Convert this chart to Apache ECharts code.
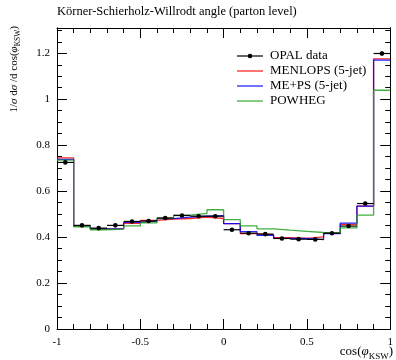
<!DOCTYPE html>
<html><head><meta charset="utf-8">
<script src="https://cdn.jsdelivr.net/npm/echarts@6/dist/echarts.min.js"></script>
<style>html,body{margin:0;padding:0;background:#fff}#c{width:396px;height:360px}</style>
</head><body><div id="c"></div>
<script>
const edges = [-1,-0.9,-0.8,-0.7,-0.6,-0.5,-0.4,-0.3,-0.2,-0.1,0,0.1,0.2,0.3,0.4,0.5,0.6,0.7,0.8,0.9,1];
const opal    = [0.725,0.451,0.439,0.451,0.468,0.470,0.483,0.494,0.491,0.491,0.432,0.417,0.413,0.394,0.391,0.390,0.417,0.448,0.546,1.199];
const opalErr = [0.008,0.005,0.005,0.005,0.005,0.005,0.005,0.005,0.005,0.005,0.005,0.005,0.005,0.005,0.005,0.005,0.005,0.006,0.007,0.010];
const menlops = [0.745,0.449,0.436,0.437,0.460,0.473,0.478,0.481,0.487,0.481,0.459,0.415,0.410,0.398,0.394,0.401,0.417,0.455,0.535,1.176];
const meps    = [0.738,0.449,0.436,0.437,0.464,0.470,0.480,0.487,0.491,0.493,0.459,0.424,0.408,0.394,0.394,0.389,0.415,0.461,0.535,1.170];
const powheg  = [0.735,0.445,0.432,0.435,0.449,0.462,0.482,0.496,0.503,0.519,0.476,0.449,0.436,0.430,0.425,0.420,0.418,0.440,0.496,1.039];
const xTicks = [-1,-0.5,0,0.5,1];
const yTicks = [0,0.2,0.4,0.6,0.8,1,1.2];

const FONT = 'Liberation Serif';
function steps(v){const out=[];for(let i=0;i<v.length;i++){out.push([edges[i],v[i]]);out.push([edges[i+1],v[i]]);}return out;}
function hist(name,color,vals){return {name,type:'line',data:steps(vals),showSymbol:false,symbol:'none',
  lineStyle:{color,width:1.3,opacity:0.85},itemStyle:{color},z:3,silent:true};}
const opalData = opal.map((v,i)=>[edges[i],edges[i+1],v,opalErr[i]]);

const baseAxisLine={show:true,onZero:false,lineStyle:{color:'#000',width:1}};
const chart = echarts.init(document.getElementById('c'),null,{renderer:'canvas'});
const lblY = {fontFamily:FONT,fontSize:11,color:'#000',margin:7,showMaxLabel:false,
  formatter:v=>yTicks.includes(Math.round(v*100)/100)?String(Math.round(v*100)/100):''};
chart.setOption({
  animation:false,
  grid:{left:57,right:3,top:28,bottom:31,containLabel:false},
  xAxis:[
    {type:'value',min:-1,max:1,interval:0.5,position:'bottom',axisLine:baseAxisLine,
     axisTick:{show:true,inside:true,length:10,lineStyle:{color:'#000'}},
     minorTick:{show:true,splitNumber:5,length:5,lineStyle:{color:'#000'}},
     splitLine:{show:false},
     axisLabel:{fontFamily:FONT,fontSize:11,color:'#000',margin:8,
       formatter:v=>xTicks.includes(v)?String(v):''}},
    {type:'value',min:-1,max:1,interval:0.5,position:'top',axisLine:baseAxisLine,
     axisTick:{show:true,inside:true,length:10,lineStyle:{color:'#000'}},
     minorTick:{show:true,splitNumber:5,length:5,lineStyle:{color:'#000'}},
     splitLine:{show:false},axisLabel:{show:false}}
  ],
  yAxis:[
    {type:'value',min:0,max:1.31,interval:0.2,position:'left',axisLine:baseAxisLine,
     axisTick:{show:true,inside:true,length:10,lineStyle:{color:'#000'}},splitLine:{show:false},axisLabel:lblY},
    {type:'value',min:0,max:1.31,interval:0.05,position:'left',axisLine:baseAxisLine,
     axisTick:{show:true,inside:true,length:5,lineStyle:{color:'#000'}},splitLine:{show:false},axisLabel:{show:false}},
    {type:'value',min:0,max:1.31,interval:0.2,position:'right',axisLine:baseAxisLine,
     axisTick:{show:true,inside:true,length:10,lineStyle:{color:'#000'}},splitLine:{show:false},axisLabel:{show:false}},
    {type:'value',min:0,max:1.31,interval:0.05,position:'right',axisLine:baseAxisLine,
     axisTick:{show:true,inside:true,length:5,lineStyle:{color:'#000'}},splitLine:{show:false},axisLabel:{show:false}}
  ],
  series:[
    hist('MENLOPS (5-jet)','#ff0000',menlops),
    hist('ME+PS (5-jet)','#0000ff',meps),
    hist('POWHEG','#22a022',powheg),
    {name:'OPAL data',type:'custom',data:opalData,z:5,silent:true,
     renderItem:(params,api)=>{
       const x0=api.value(0),x1=api.value(1),y=api.value(2),e=api.value(3);
       const a=api.coord([x0,y]),b=api.coord([x1,y]),c=api.coord([(x0+x1)/2,y]);
       const t=api.coord([(x0+x1)/2,y+e]),d=api.coord([(x0+x1)/2,y-e]);
       return {type:'group',children:[
         {type:'line',shape:{x1:a[0],y1:a[1],x2:b[0],y2:b[1]},style:{stroke:'#000',lineWidth:1.2}},
         {type:'line',shape:{x1:t[0],y1:t[1],x2:d[0],y2:d[1]},style:{stroke:'#000',lineWidth:1.2}},
         {type:'circle',shape:{cx:c[0],cy:c[1],r:2.3},style:{fill:'#000'}}
       ]};
     }}
  ],
  graphic:[
    {type:'text',left:57,top:5,style:{text:'Körner-Schierholz-Willrodt angle (parton level)',fontFamily:FONT,fontSize:12.5,fill:'#000'}},
    {type:'text',x:393,y:352,style:{text:'{n|cos(}{i|φ}{s|KSW}{n|)}',align:'right',verticalAlign:'middle',
      rich:{n:{fontFamily:FONT,fontSize:13,fill:'#000',verticalAlign:'bottom'},i:{fontFamily:FONT,fontSize:13,fontStyle:'italic',fill:'#000',verticalAlign:'bottom'},
            s:{fontFamily:FONT,fontSize:9,fill:'#000',verticalAlign:'bottom',padding:[0,0,-3,0]}}}},
    {type:'text',x:14,y:26,rotation:Math.PI/2,style:{text:'{n|1/}{i|σ}{n| d}{i|σ}{n| /d cos(}{i|φ}{s|KSW}{n|)}',align:'right',verticalAlign:'middle',
      rich:{n:{fontFamily:FONT,fontSize:11,fill:'#000',verticalAlign:'bottom'},i:{fontFamily:FONT,fontSize:11,fontStyle:'italic',fill:'#000',verticalAlign:'bottom'},
            s:{fontFamily:FONT,fontSize:7.5,fill:'#000',verticalAlign:'bottom',padding:[0,0,-3,0]}}}},
    // legend
    {type:'line',shape:{x1:237,y1:56,x2:263,y2:56},style:{stroke:'#000',lineWidth:1.2}},
    {type:'circle',shape:{cx:250,cy:56,r:2.3},style:{fill:'#000'}},
    {type:'text',x:270,y:56,style:{text:'OPAL data',fontFamily:FONT,fontSize:13,fill:'#000',verticalAlign:'middle'}},
    {type:'line',shape:{x1:237,y1:71,x2:263,y2:71},style:{stroke:'#ff0000',lineWidth:1.3,opacity:0.85}},
    {type:'text',x:270,y:71,style:{text:'MENLOPS (5-jet)',fontFamily:FONT,fontSize:13,fill:'#000',verticalAlign:'middle'}},
    {type:'line',shape:{x1:237,y1:86,x2:263,y2:86},style:{stroke:'#0000ff',lineWidth:1.3,opacity:0.85}},
    {type:'text',x:270,y:86,style:{text:'ME+PS (5-jet)',fontFamily:FONT,fontSize:13,fill:'#000',verticalAlign:'middle'}},
    {type:'line',shape:{x1:237,y1:101,x2:263,y2:101},style:{stroke:'#22a022',lineWidth:1.3,opacity:0.85}},
    {type:'text',x:270,y:101,style:{text:'POWHEG',fontFamily:FONT,fontSize:13,fill:'#000',verticalAlign:'middle'}}
  ]
});
</script></body></html>
